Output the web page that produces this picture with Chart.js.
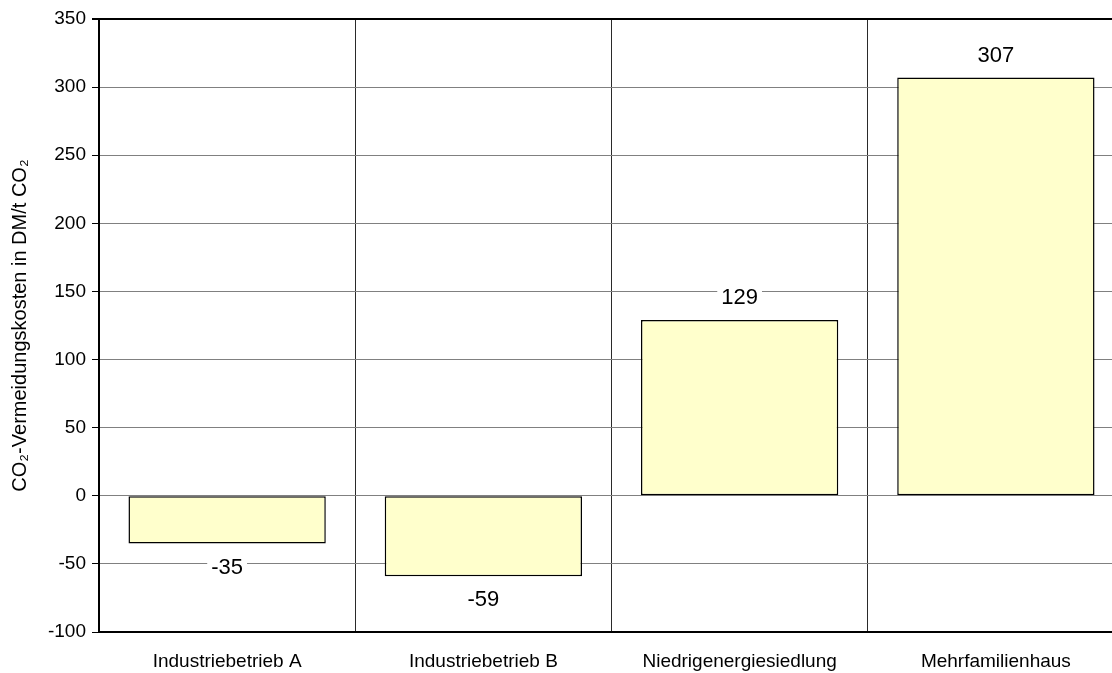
<!DOCTYPE html>
<html>
<head>
<meta charset="utf-8">
<script src="https://cdn.jsdelivr.net/npm/chart.js@4"></script>
<style>
  html, body { margin: 0; padding: 0; background: #fff; overflow: hidden; }
  #wrap { width: 1124px; height: 673px; }
</style>
</head>
<body>
<div id="wrap"><canvas id="costChart" width="1124" height="673"></canvas></div>
<script>
const categories = ['Industriebetrieb A', 'Industriebetrieb B', 'Niedrigenergiesiedlung', 'Mehrfamilienhaus'];
const costs = [-35, -59, 129, 307];
const yMin = -100;
const yMax = 350;
const yStep = 50;

const FONT = "Arial, 'Liberation Sans', sans-serif";

// value labels sitting on white boxes so they cut through the grid lines
const valueLabels = {
    id: 'valueLabels',
    afterDatasetsDraw(chart) {
        const ctx = chart.ctx;
        const meta = chart.getDatasetMeta(0);
        ctx.save();
        ctx.font = '22px ' + FONT;
        ctx.textAlign = 'center';
        ctx.textBaseline = 'middle';
        meta.data.forEach((bar, i) => {
            const v = costs[i];
            const txt = String(v);
            const y = v >= 0 ? bar.y - 23 : bar.y + 23;
            const w = ctx.measureText(txt).width + 8;
            ctx.fillStyle = '#fff';
            ctx.fillRect(bar.x - w / 2, y - 12, w, 24);
            ctx.fillStyle = '#000';
            ctx.fillText(txt, bar.x, y + 1);
        });
        ctx.restore();
    }
};

new Chart(document.getElementById('costChart').getContext('2d'), {
    type: 'bar',
    data: {
        labels: categories,
        datasets: [{
            data: costs,
            backgroundColor: '#ffffcc',
            borderColor: '#000',
            borderWidth: 1.5,
            borderSkipped: false,
            barPercentage: 0.77,
            categoryPercentage: 1
        }]
    },
    options: {
        responsive: false,
        animation: false,
        layout: { padding: { top: 19, right: 0, left: 0, bottom: 0 } },
        plugins: {
            legend: { display: false },
            tooltip: { enabled: false }
        },
        scales: {
            x: {
                afterFit(s) { s.height = 41; },
                grid: {
                    offset: true,
                    drawTicks: false,
                    color: '#2a2a2a',
                    lineWidth: 1
                },
                border: { color: '#000', width: 2 },
                ticks: {
                    color: '#000',
                    padding: 18,
                    font: { family: FONT, size: 19 }
                }
            },
            y: {
                min: yMin,
                max: yMax,
                afterFit(s) { s.width = 99; },
                grid: {
                    color: c => c.tick && c.tick.value === yMax ? '#000' : '#808080',
                    lineWidth: c => c.tick && c.tick.value === yMax ? 2 : 1,
                    tickColor: '#000',
                    tickLength: 7
                },
                border: { color: '#000', width: 2 },
                ticks: {
                    stepSize: yStep,
                    color: '#000',
                    padding: 6,
                    font: { family: FONT, size: 19 }
                },
                title: {
                    display: true,
                    text: 'CO₂-Vermeidungskosten in DM/t CO₂',
                    color: '#000',
                    padding: { top: 8, bottom: 0 },
                    font: { family: FONT, size: 20 }
                }
            }
        }
    },
    plugins: [valueLabels]
});
</script>
</body>
</html>
